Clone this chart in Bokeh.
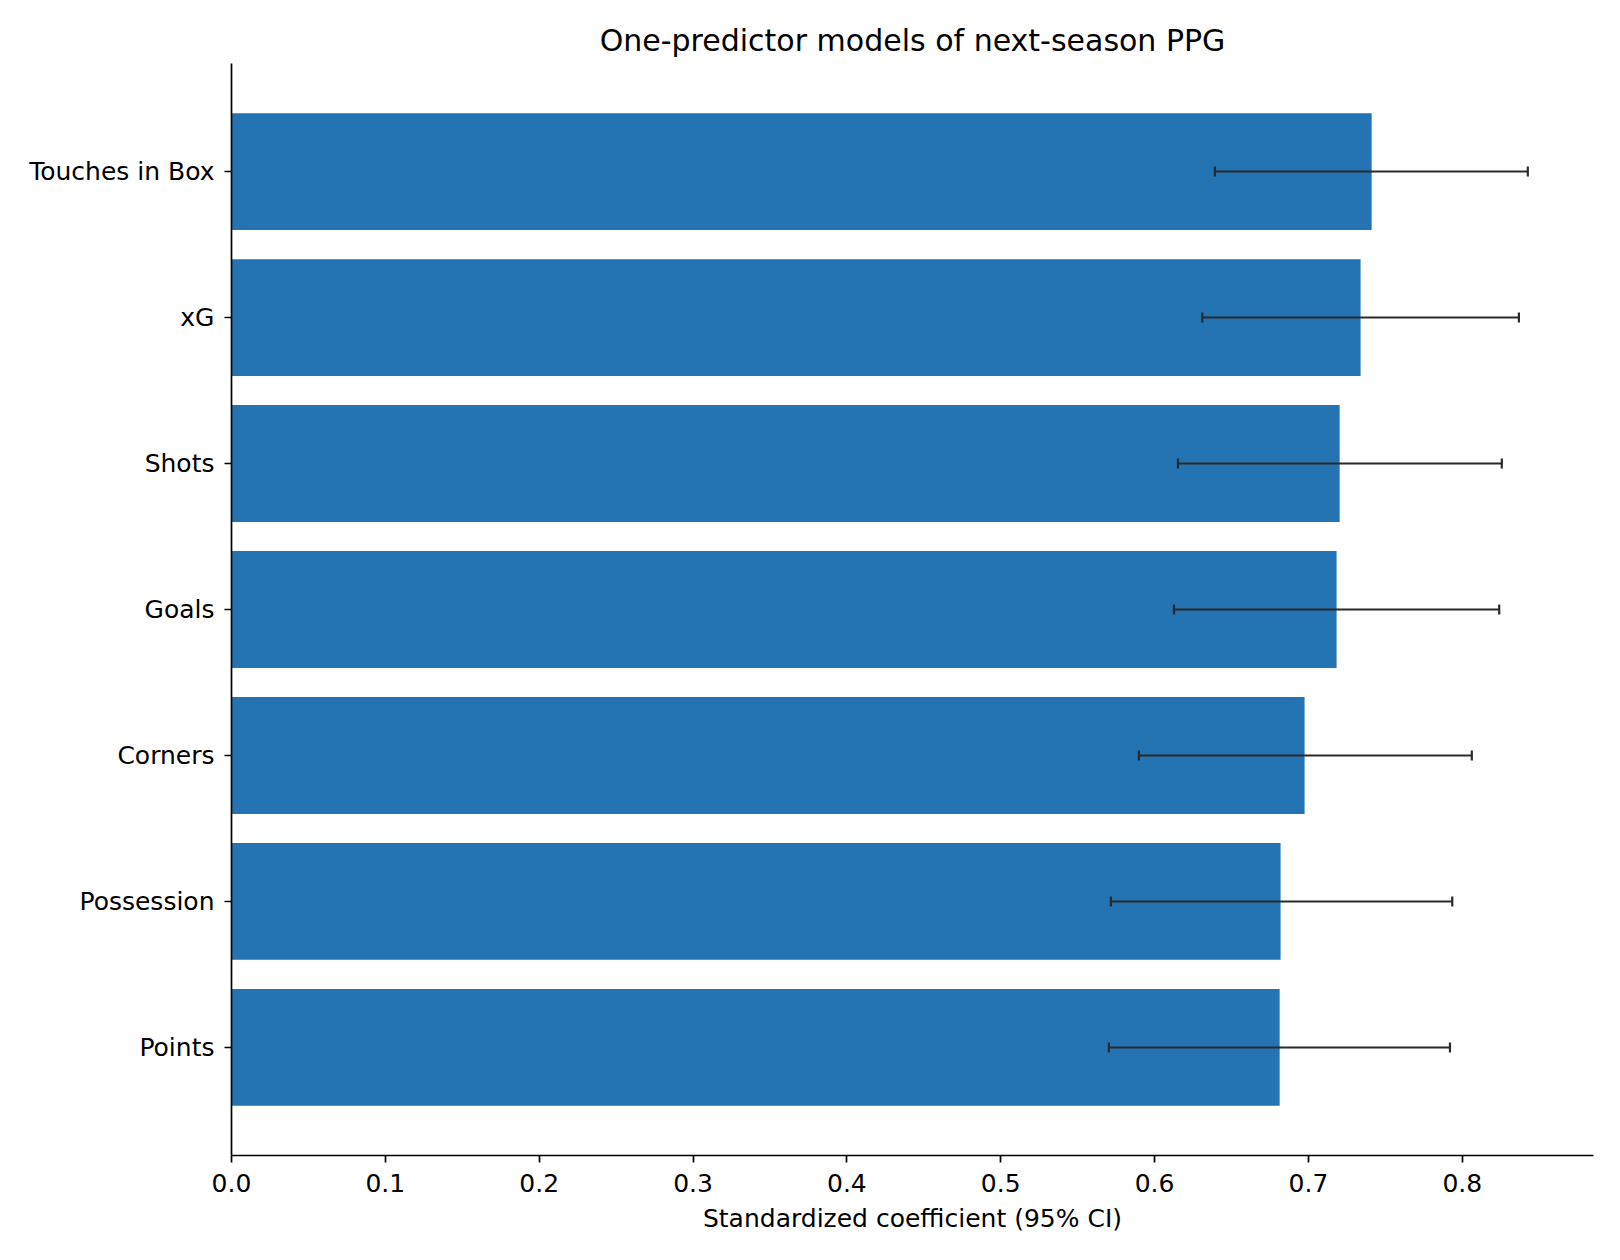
from bokeh.plotting import figure
from bokeh.models import (ColumnDataSource, Range1d, FixedTicker,
                          PrintfTickFormatter, Whisker, TeeHead)
from bokeh.embed import file_html
from bokeh.resources import INLINE

# ---- data ----
predictors = ["Points", "Possession", "Corners", "Goals", "Shots", "xG", "Touches in Box"]
coef = [0.6813, 0.6819, 0.6975, 0.7183, 0.7203, 0.7339, 0.7411]
ci_low = [0.5703, 0.5716, 0.5898, 0.6126, 0.6152, 0.6310, 0.6392]
ci_high = [0.7920, 0.7935, 0.8062, 0.8240, 0.8257, 0.8368, 0.8426]
x_ticks = [0.0, 0.1, 0.2, 0.3, 0.4, 0.5, 0.6, 0.7, 0.8]

title_text = "One-predictor models of next-season PPG"
x_label = "Standardized coefficient (95% CI)"

FONT = "DejaVu Sans"
BAR = "#2473b3"
ERR = "#2a2a2a"
TICK_FS = "25px"

pos = list(range(len(predictors)))
src = ColumnDataSource(dict(y=pos, coef=coef, lo=ci_low, hi=ci_high))

p = figure(
    frame_width=1362, frame_height=1092,
    min_border_left=231, min_border_right=10, min_border_top=63, min_border_bottom=88,
    x_range=Range1d(0, 0.8853), y_range=Range1d(-0.74, 6.74),
    output_backend="svg", toolbar_location=None, tools="",
    background_fill_color="white", border_fill_color="white",
)
p.outline_line_color = None
p.grid.visible = False

p.hbar(y="y", right="coef", left=0, height=0.8, source=src,
       fill_color=BAR, line_color=None)

head_kw = dict(size=10, line_color=ERR, line_width=2.2)
wh = Whisker(source=src, base="y", lower="lo", upper="hi", dimension="width",
             line_color=ERR, line_width=2,
             lower_head=TeeHead(**head_kw), upper_head=TeeHead(**head_kw),
             level="overlay")
p.add_layout(wh)

# title
p.title.text = title_text
p.title.align = "center"
p.title.text_font = FONT
p.title.text_font_size = "30px"
p.title.text_font_style = "normal"
p.title.text_color = "black"
p.title.standoff = 11

# axes
for ax in (p.xaxis[0], p.yaxis[0]):
    ax.axis_line_width = 1.7
    ax.axis_line_color = "black"
    ax.major_tick_line_width = 1.7
    ax.major_tick_line_color = "black"
    ax.major_tick_out = 7
    ax.major_tick_in = 0
    ax.minor_tick_line_color = None
    ax.major_label_text_font = FONT
    ax.major_label_text_font_size = TICK_FS
    ax.major_label_text_color = "black"

p.xaxis.ticker = FixedTicker(ticks=x_ticks)
p.xaxis.formatter = PrintfTickFormatter(format="%.1f")
p.xaxis.major_label_standoff = 11
p.xaxis.axis_label = x_label
p.xaxis.axis_label_text_font = FONT
p.xaxis.axis_label_text_font_size = TICK_FS
p.xaxis.axis_label_text_font_style = "normal"
p.xaxis.axis_label_text_color = "black"
p.xaxis.axis_label_standoff = 9

p.yaxis.ticker = FixedTicker(ticks=pos)
p.yaxis.major_label_overrides = {i: name for i, name in zip(pos, predictors)}
p.yaxis.major_label_standoff = 10

open("out.html", "w").write(file_html(p, INLINE))
